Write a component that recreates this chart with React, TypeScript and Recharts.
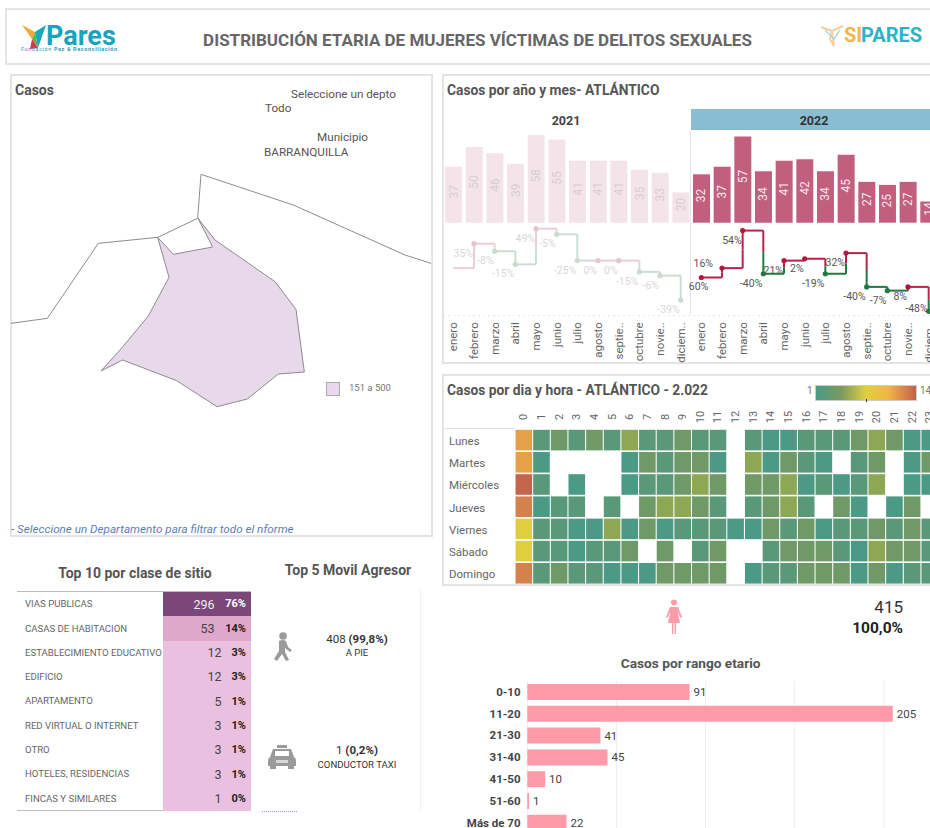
import React from 'react';
import {
  BarChart, Bar, Cell, XAxis, YAxis, LabelList, LineChart, Line, ScatterChart, Scatter,
  CartesianGrid, Polygon,
} from 'recharts';

const FONT = 'Roboto, sans-serif';

// ---------- Map ----------
const mapAtlantico = [
  [473, 502], [520, 553], [638, 531], [594, 445], [645, 510], [825, 635], [888, 718], [913, 906],
  [835, 912], [742, 987], [651, 1010], [530, 932], [368, 870], [303, 903], [360, 840], [445, 738],
  [507, 622],
].map(([x, y]) => ({ x, y }));
const mapNorth = [[593, 445], [603, 313], [880, 405], [1215, 555], [1293, 580]].map(([x, y]) => ({ x, y }));
const mapWest = [[33, 760], [142, 745], [295, 520], [473, 502], [593, 445]].map(([x, y]) => ({ x, y }));

// ---------- Monthly ----------
const months = ['enero', 'febrero', 'marzo', 'abril', 'mayo', 'junio', 'julio', 'agosto', 'septie..', 'octubre', 'novie..', 'diciem..'];
const cases2021 = [37, 50, 46, 39, 58, 55, 41, 41, 41, 35, 33, 20];
const cases2022 = [32, 37, 57, 34, 41, 42, 34, 45, 27, 25, 27, 14];
const pct2021 = ['', '35%', '-8%', '-15%', '49%', '-5%', '-25%', '0%', '0%', '-15%', '-6%', '-39%'];
const pct2022 = ['60%', '16%', '54%', '-40%', '21%', '2%', '-19%', '32%', '-40%', '-7%', '8%', '-48%'];
const monthly = [...cases2021, ...cases2022].map((v, i) => ({
  i, x: i, v, label: i < 12 ? months[i] : months[i - 12],
  pct: i < 12 ? pct2021[i] : pct2022[i - 12],
}));

const RED22 = '#b8234b', GREEN22 = '#1f7a42', RED21 = '#ebcdd7', GREEN21 = '#cbded2';
const segColor = (i: number) => {
  const up = !monthly[i].pct.startsWith('-');
  return i < 12 ? (up ? RED21 : GREEN21) : (up ? RED22 : GREEN22);
};
type Seg = { key: string; color: string; data: { x: number; v: number }[] };
const segments: Seg[] = [];
monthly.forEach((m, i) => {
  if (i === 11 || i === 23) return;
  const next = monthly[i + 1];
  segments.push({ key: `h${i}`, color: segColor(i), data: [{ x: i, v: m.v }, { x: i + 1, v: m.v }] });
  const mid = (m.v + next.v) / 2;
  segments.push({ key: `va${i}`, color: segColor(i), data: [{ x: i + 1, v: m.v }, { x: i + 1, v: mid }] });
  segments.push({ key: `vb${i}`, color: segColor(i + 1), data: [{ x: i + 1, v: mid }, { x: i + 1, v: next.v }] });
});
const pctShift: Record<number, [number, number]> = { 12: [7, 12], 13: [-9, -1], 23: [-1, 1] };

// ---------- Heatmap ----------
const days = ['Lunes', 'Martes', 'Miércoles', 'Jueves', 'Viernes', 'Sábado', 'Domingo'];
const hours = Array.from({ length: 24 }, (_, h) => h);
const N = null;
const heatLunes = [11, 2, 3, 2, 3, 2, 4, 2, 2, 3, 2, 2, N, 2, 1, 1, 2, 2, 2, 3, 4, 3, 1, 1];
const heatMartes = [11, 1, N, N, N, N, 1, 3, 2, 3, 3, 1, N, 4, 1, 3, 2, 1, N, 2, 3, N, 1, 3];
const heatMiercoles = [14, 2, N, 1, N, N, 1, 2, 2, 3, 4, 3, N, 3, 3, 4, 1, 2, 1, 2, 4, N, 1, 1];
const heatJueves = [13, 1, 2, 2, N, 2, N, 3, 4, 4, 3, 2, N, 2, 3, 4, 2, N, 3, 1, N, 1, 3, N];
const heatViernes = [8, 2, 2, 1, 1, 4, 1, 3, 1, 2, 2, 2, 1, 1, 3, 2, 3, 1, 2, 2, 3, 2, 3, 2];
const heatSabado = [8, 2, 2, 1, 2, 2, 3, N, 3, N, 2, 3, N, N, 2, 3, 3, 3, 2, 1, 4, 3, 3, 2];
const heatDomingo = [13, 2, 3, 2, 2, 1, 1, 1, 3, 3, 3, 3, N, 1, 2, 2, 3, 3, 3, 1, 3, 1, 2, 2];
const heatRows = [heatLunes, heatMartes, heatMiercoles, heatJueves, heatViernes, heatSabado, heatDomingo];
const heatCells = heatRows.flatMap((row, day) =>
  row.map((value, hour) => ({ hour, day, value })).filter((c) => c.value !== null));
const heatColors: Record<number, string> = {
  1: '#4a9a86', 2: '#5a987a', 3: '#6f9a67', 4: '#8ca855', 8: '#dfcf40', 11: '#e6a048', 13: '#d3824d', 14: '#c3654d',
};

// ---------- Top lists ----------
const sitios = ['VIAS PUBLICAS', 'CASAS DE HABITACION', 'ESTABLECIMIENTO EDUCATIVO', 'EDIFICIO', 'APARTAMENTO', 'RED VIRTUAL O INTERNET', 'OTRO', 'HOTELES, RESIDENCIAS', 'FINCAS Y SIMILARES'];
const sitioCasos = [296, 53, 12, 12, 5, 3, 3, 3, 1];
const sitioPct = ['76%', '14%', '3%', '3%', '1%', '1%', '1%', '1%', '0%'];

// ---------- Age ----------
const ageRanges = ['0-10', '11-20', '21-30', '31-40', '41-50', '51-60', 'Más de 70'];
const ageCases = [91, 205, 41, 45, 10, 1, 22];
const ageData = ageRanges.map((r, i) => ({ r, v: ageCases[i] }));
const ageTicks = [0, 50, 100, 150, 200];

const T = ({ x, y, size = 12, color = '#555', bold = false, italic = false, align = 'left', children, width = 300 }: any) => {
  const left = align === 'left' ? x : align === 'center' ? x - width / 2 : x - width;
  return (
    <div style={{
      position: 'absolute', left, top: y - size * 0.6, width, height: size * 1.2, lineHeight: `${size * 1.2}px`,
      fontSize: size, color, fontWeight: bold ? 700 : 400, fontStyle: italic ? 'italic' : 'normal',
      textAlign: align, whiteSpace: 'nowrap', fontFamily: FONT,
    }}>{children}</div>
  );
};
const Box = ({ x, y, w, h, style }: any) => (
  <div style={{ position: 'absolute', left: x, top: y, width: w, height: h, boxSizing: 'border-box', ...style }} />
);
const PANEL = '2px solid #e4e4e4';

const BarLabel = (p: any) => {
  const cx = p.x + p.width / 2;
  const cy = p.y + p.height / 2 - 3;
  return (
    <text transform={`translate(${cx},${cy}) rotate(-90)`} textAnchor="middle" dominantBaseline="central"
      fontSize={12} fontFamily={FONT} fill={p.index < 12 ? '#d6ced1' : '#f8e8ee'}>{p.value}</text>
  );
};

const MonthTick = (p: any) => (
  <text transform={`translate(${p.x},${p.y + 3}) rotate(-90)`} textAnchor="end" dominantBaseline="central"
    fontSize={11.5} fontFamily={FONT} fill="#666">{monthly[p.payload.value].label}</text>
);

const LineDot = (p: any) => {
  const i = p.index;
  const m = monthly[i];
  if (i === 0) return <g key={i} />;
  const [dx, dy] = pctShift[i] || [-1, 13];
  return (
    <g key={i}>
      <circle cx={p.cx} cy={p.cy} r={2.6} fill={i < 12 ? (m.pct.startsWith('-') ? '#c9dccf' : '#e6c3d0') : (m.pct.startsWith('-') ? GREEN22 : '#b5173f')} />
      <text x={p.cx + dx} y={p.cy + dy} textAnchor="end" fontSize={10.5} fontFamily={FONT} fill={i < 12 ? '#d8d8d8' : '#555'}>{m.pct}</text>
    </g>
  );
};

const HeatCell = (p: any) => (
  <rect x={p.cx - 8.3} y={p.cy - 10.3} width={16.6} height={20.6} fill={heatColors[p.payload.value]} />
);
const HourTick = (p: any) => (
  <text transform={`translate(${p.x},${p.y - 12}) rotate(-90)`} textAnchor="middle" dominantBaseline="central"
    fontSize={11} fontFamily={FONT} fill="#666">{p.payload.value}</text>
);
const DayTick = (p: any) => (
  <text x={8} y={p.y + 1} dominantBaseline="central" fontSize={11.5} fontFamily={FONT} fill="#666">{days[p.payload.value]}</text>
);
const AgeTick = (p: any) => (
  <text x={90.5} y={p.y} textAnchor="end" dominantBaseline="central" fontSize={11.5} fontWeight={700} fontFamily={FONT} fill="#444">{p.payload.value}</text>
);

const PolyFill = (props: any) => (
  <Polygon points={props.points} fill="#e8d9ea" stroke="#8f8a90" strokeWidth={1} />
);
const NoShape = () => <g />;

export default function App() {
  return (
    <div style={{ position: 'absolute', left: 0, top: 0, width: 930, height: 828, overflow: 'hidden', background: '#fff', fontFamily: FONT }}>
      {/* Header */}
      <Box x={5} y={8} w={940} h={57} style={{ border: PANEL }} />
      <svg style={{ position: 'absolute', left: 20, top: 22 }} width={30} height={30} viewBox="0 0 30 30">
        <polygon points="2,3 15,10 12,17" fill="#f2a93b" />
        <polygon points="12,17 15,10 18,26" fill="#5db54a" />
        <polygon points="15,10 26,3 18,26" fill="#18a8b8" />
        <polygon points="12,17 18,26 10,27" fill="#d8354c" />
      </svg>
      <T x={46} y={36} size={27} bold color="#1aa3c0" width={72}>Pares</T>
      <T x={21} y={49} size={5.5} color="#2a9fb8" width={100}><span style={{ letterSpacing: 0.6 }}>Fundación <b>Paz &amp; Reconciliación</b></span></T>
      <T x={477.5} y={40} size={17} bold color="#666" align="center" width={700}>DISTRIBUCIÓN ETARIA DE MUJERES VÍCTIMAS DE DELITOS SEXUALES</T>
      <svg style={{ position: 'absolute', left: 820, top: 25 }} width={26} height={22} viewBox="0 0 26 22">
        <polyline points="1,2 12,6 10,14 14,21 12,6 23,1" fill="none" stroke="#f3cfa0" strokeWidth={2} />
        <polyline points="5,5 14,14 20,5" fill="none" stroke="#a9dcd8" strokeWidth={1.5} />
      </svg>
      <T x={844} y={35} size={20} bold color="#f5b547" width={17}>SI</T>
      <T x={861} y={35} size={20} bold color="#2fb2c4" width={69}>PARES</T>

      {/* Map panel */}
      <Box x={10} y={74} w={423} h={463} style={{ border: PANEL }} />
      <div style={{ position: 'absolute', left: 0, top: 70 }}>
        <ScatterChart width={440} height={470} margin={{ top: 0, right: 0, bottom: 0, left: 0 }}>
          <XAxis type="number" dataKey="x" domain={[0, 1320]} hide />
          <YAxis type="number" dataKey="y" domain={[0, 1410]} reversed hide />
          <Scatter data={mapNorth} isAnimationActive={false} line={{ stroke: '#8f8a90', strokeWidth: 1 }} shape={NoShape} fill="none" />
          <Scatter data={mapWest} isAnimationActive={false} line={{ stroke: '#8f8a90', strokeWidth: 1 }} shape={NoShape} fill="none" />
          <Scatter data={mapAtlantico} isAnimationActive={false} line={PolyFill} shape={NoShape} fill="none" />
        </ScatterChart>
      </div>
      <T x={15} y={90} size={14} bold>Casos</T>
      <T x={291} y={94} size={11.7}>Seleccione un depto</T>
      <T x={265} y={108.5} size={11.7}>Todo</T>
      <T x={317} y={137.5} size={11.7}>Municipio</T>
      <T x={264} y={152.5} size={11.7}>BARRANQUILLA</T>
      <Box x={326} y={382} w={14} h={14} style={{ background: '#e8d9ea', border: '1px solid #aaa' }} />
      <T x={349} y={388} size={9.5} color="#777">151 a 500</T>
      <T x={11} y={529.5} size={11.7} italic color="#5b80b5">- Seleccione un Departamento para filtrar todo el nforme</T>

      {/* Monthly panel */}
      <Box x={442} y={74} w={500} h={290} style={{ border: PANEL }} />
      <T x={447} y={90} size={13.8} bold>Casos por año y mes- ATLÁNTICO</T>
      <Box x={691} y={109} w={250} h={21} style={{ background: '#8bbdd2' }} />
      <T x={566} y={120} size={12.5} bold color="#444" align="center" width={100}>2021</T>
      <T x={814} y={120} size={12.5} bold color="#333" align="center" width={100}>2022</T>
      <Box x={442} y={130} w={2} h={186} style={{ background: '#e6e6e6' }} />
      <Box x={690} y={130} w={1} h={186} style={{ background: '#e6e6e6' }} />
      <Box x={443} y={315} w={487} h={1} style={{ background: 'repeating-linear-gradient(90deg,#f7d6ee 0 2px,#fff 2px 5px,#c8f3f3 5px 7px,#fff 7px 10px,#f8f3c8 10px 12px,#fff 12px 15px)' }} />
      <div style={{ position: 'absolute', left: 443, top: 130 }}>
        <BarChart width={496} height={92.7} data={monthly} margin={{ top: 5, right: 0, bottom: 0, left: 0 }} barSize={17}>
          <XAxis dataKey="i" hide />
          <YAxis domain={[0, 58]} hide />
          <Bar dataKey="v" isAnimationActive={false}>
            {monthly.map((m) => <Cell key={m.i} fill={m.i < 12 ? '#f4e4e9' : '#c25f7f'} />)}
            <LabelList dataKey="v" content={BarLabel} />
          </Bar>
        </BarChart>
      </div>
      <div style={{ position: 'absolute', left: 443, top: 222 }}>
        <LineChart width={496} height={145} margin={{ top: 6.7, right: 0, bottom: 0, left: 0 }}>
          <XAxis type="number" dataKey="x" domain={[-0.5, 23.5]} ticks={hours} interval={0} height={55.7}
            axisLine={false} tickLine={false} tick={MonthTick} />
          <YAxis type="number" domain={[14, 58]} hide />
          {segments.map((s) => (
            <Line key={s.key} data={s.data} dataKey="v" stroke={s.color} strokeWidth={2} dot={false} isAnimationActive={false} legendType="none" />
          ))}
          <Line data={monthly} dataKey="v" stroke="none" dot={LineDot} isAnimationActive={false} legendType="none" />
        </LineChart>
      </div>

      {/* Heatmap panel */}
      <Box x={442} y={374} w={500} h={212} style={{ border: PANEL }} />
      <T x={447} y={390} size={13.8} bold>Casos por dia y hora - ATLÁNTICO - 2.022</T>
      <T x={807} y={391} size={10} color="#777">1</T>
      <Box x={815} y={385} w={102} h={16} style={{ background: 'linear-gradient(90deg,#4a9a86 0%,#7a9a5f 25%,#e0cf40 50%,#f2b544 72%,#c7604a 100%)', border: '1px solid #ccc' }} />
      <Box x={866} y={399} w={1} h={3} style={{ background: '#333' }} />
      <T x={920} y={391} size={10} color="#777">14</T>
      <Box x={442} y={428} w={73} h={1} style={{ background: '#ddd' }} />
      <div style={{ position: 'absolute', left: 441, top: 400 }}>
        <ScatterChart width={497.6} height={184.4} margin={{ top: 0, right: 0, bottom: 0, left: 0 }}>
          <XAxis type="number" dataKey="hour" orientation="top" domain={[-0.5, 23.5]} ticks={hours} interval={0} height={29}
            axisLine={false} tickLine={false} tickSize={0} tickMargin={0} tick={HourTick} />
          <YAxis type="number" dataKey="day" reversed domain={[-0.5, 6.5]} ticks={[0, 1, 2, 3, 4, 5, 6]} interval={0} width={74}
            axisLine={false} tickLine={false} tick={DayTick} />
          <Scatter data={heatCells} isAnimationActive={false} shape={HeatCell} />
        </ScatterChart>
      </div>

      {/* Top 10 */}
      <T x={135} y={573} size={14} bold align="center">Top 10 por clase de sitio</T>
      <Box x={17} y={591} w={234} h={1} style={{ background: '#bbb' }} />
      <Box x={17} y={810} w={234} h={1} style={{ background: '#bbb' }} />
      {sitios.map((s, i) => {
        const top = 592 + i * 24.3;
        const mid = top + 12;
        const bg = sitioCasos[i] > 100 ? '#7b4679' : sitioCasos[i] > 20 ? '#dfa8cb' : '#e9c0e0';
        return (
          <React.Fragment key={s}>
            <Box x={163} y={top} w={88} h={24.4} style={{ background: bg }} />
            <T x={25} y={mid} size={9.6} color="#666" width={136}>{s}</T>
            <T x={sitioCasos[i] > 20 ? 214.5 : 221.5} y={mid} size={12.5} color={i === 0 ? '#eee' : '#444'} align="right" width={30}>{sitioCasos[i]}</T>
            <T x={246} y={mid} size={11} bold color={i === 0 ? '#fff' : '#222'} align="right" width={24}>{sitioPct[i]}</T>
          </React.Fragment>
        );
      })}

      {/* Top 5 */}
      <T x={348} y={570} size={14} bold align="center" width={160}>Top 5 Movil Agresor</T>
      <Box x={420} y={590} w={1} h={222} style={{ background: '#f0f0f0' }} />
      <svg style={{ position: 'absolute', left: 273, top: 632 }} width={20} height={29} viewBox="0 0 20 29" fill="#9a9a9a">
        <circle cx={10} cy={4} r={3.8} />
        <path d="M6 9 Q10 7 13 9 L15 15 L19 18 L17 20 L12 16 L12 20 L16 28 L13 29 L9 22 L4 29 L1 27 L6 19 Z" />
      </svg>
      <T x={357} y={640} size={11.5} color="#333" align="center" width={120}>408 <b>(99,8%)</b></T>
      <T x={357} y={653} size={9.5} color="#333" align="center" width={120}>A PIE</T>
      <svg style={{ position: 'absolute', left: 268, top: 745 }} width={28} height={24} viewBox="0 0 28 24" fill="#9a9a9a">
        <rect x={9} y={0} width={10} height={3} />
        <path d="M5 4 H23 L26 12 Q28 13 28 16 V21 H0 V16 Q0 13 2 12 Z" />
        <rect x={2} y={21} width={6} height={3} />
        <rect x={20} y={21} width={6} height={3} />
        <rect x={7} y={6} width={14} height={5} fill="#fff" />
        <rect x={8} y={15} width={12} height={3} fill="#d8d8d8" />
      </svg>
      <T x={357} y={751} size={11.5} color="#333" align="center" width={120}>1 <b>(0,2%)</b></T>
      <T x={357} y={765} size={9.6} color="#333" align="center" width={120}>CONDUCTOR TAXI</T>
      <Box x={262} y={811} w={35} h={1} style={{ background: 'repeating-linear-gradient(90deg,#e46fd0 0 1px,#fff 1px 2px)' }} />

      {/* Woman */}
      <svg style={{ position: 'absolute', left: 665, top: 599 }} width={18} height={36} viewBox="0 0 18 36" fill="#ff9aa8">
        <circle cx={9} cy={3.5} r={3} />
        <path d="M5 8 H13 L17 18 L15.5 19 L12.5 12 L15 24 H11 V35 H9.6 V24 H8.4 V35 H7 V24 H3 L5.5 12 L2.5 19 L1 18 Z" />
      </svg>
      <T x={903} y={607} size={17} color="#333" align="right" width={80}>415</T>
      <T x={903} y={628} size={15.5} bold color="#222" align="right" width={100}>100,0%</T>

      {/* Age */}
      <T x={690.7} y={663} size={13.7} bold align="center" width={240}>Casos por rango etario</T>
      <div style={{ position: 'absolute', left: 430, top: 680 }}>
        <BarChart width={543} height={153.6} data={ageData} layout="vertical" margin={{ top: 1, right: 0, bottom: 0, left: 0 }} barSize={16}>
          <CartesianGrid horizontal={false} stroke="#eeeeee" />
          <XAxis type="number" domain={[0, 250]} ticks={ageTicks} hide />
          <YAxis type="category" dataKey="r" width={97.3} axisLine={false} tickLine={false} interval={0} tick={AgeTick} />
          <Bar dataKey="v" fill="#ff9aa8" isAnimationActive={false}>
            <LabelList dataKey="v" position="right" offset={4} fontSize={11.5} fontFamily={FONT} fill="#444" />
          </Bar>
        </BarChart>
      </div>
    </div>
  );
}
